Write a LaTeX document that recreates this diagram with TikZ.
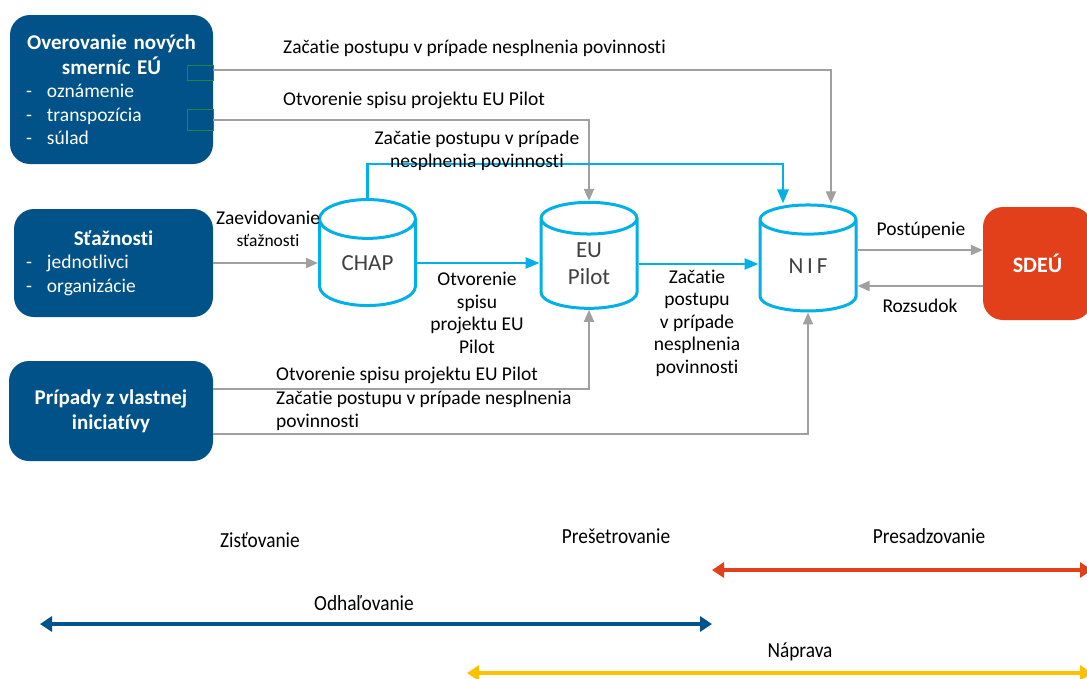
\documentclass[tikz,border=0pt]{standalone}
\usepackage{fontspec}
\setmainfont{Carlito}[RawFeature={-liga;-clig;-calt;-dlig}]
\newfontfamily\phasefont{Carlito}[FakeStretch=0.9,RawFeature={-liga;-clig;-calt;-dlig}]
\usetikzlibrary{shapes.geometric,arrows.meta,positioning,calc}

\definecolor{boxblue}{RGB}{0,82,136}
\definecolor{dbcyan}{RGB}{0,176,230}
\definecolor{linegray}{RGB}{160,160,160}
\definecolor{courtred}{RGB}{226,64,26}
\definecolor{fixyellow}{RGB}{255,192,0}
\definecolor{markgreen}{RGB}{40,130,70}

\newcommand{\lbl}{\fontsize{19.5}{22.5}\selectfont}
\newcommand{\boxfont}{\fontsize{19.5}{23.5}\selectfont}
\newcommand{\titlefont}{\fontsize{21}{25}\selectfont\bfseries}

\tikzset{
  bluebox/.style={fill=boxblue, rounded corners=20pt, text=white, font=\boxfont, inner sep=0pt},
  db/.style={cylinder, shape border rotate=90, aspect=0.75, draw=dbcyan, line width=3pt,
    fill=white, minimum width=96pt, minimum height=106pt, inner sep=0pt,
    font=\fontsize{23}{27}\selectfont, text=black!75, align=center},
  lab/.style={font=\lbl, inner sep=0pt},
  phaselab/.style={font=\phasefont\fontsize{21.5}{25}\selectfont, inner sep=0pt},
  garrow/.style={draw=linegray, line width=2pt, -{Triangle[length=12pt,width=10pt]}},
  barrow/.style={draw=dbcyan, line width=2.5pt, -{Triangle[length=14pt,width=11pt]}},
  phase/.style={line width=4.5pt, {Triangle[length=12pt,width=15pt]}-{Triangle[length=12pt,width=15pt]}},
}

\begin{document}
\begin{tikzpicture}[x=1pt,y=-1pt]
  \useasboundingbox (0,0) rectangle (1087,678);

  % Sources
  \node[bluebox, minimum width=203pt, minimum height=149pt, text width=175pt, inner xsep=14pt]
    (smer) at (111.5,89.5)
    {{\centering\titlefont Overovanie nových\\ smerníc EÚ\par}
     \hspace{2pt}-\hspace{15pt}oznámenie\\ \hspace*{2pt}-\hspace{15pt}transpozícia\\ \hspace*{2pt}-\hspace{15pt}súlad};
  \node[bluebox, minimum width=199pt, minimum height=108pt, text width=175pt, inner xsep=12pt]
    (stz) at (113.5,263)
    {{\centering\titlefont Sťažnosti\par}
     -\hspace{15pt}jednotlivci\\ -\hspace{15pt}organizácie};
  \node[bluebox, minimum width=204pt, minimum height=100pt, align=center, font=\titlefont]
    (prip) at (111,411) {Prípady z vlastnej\\ iniciatívy};

  % Court
  \node[bluebox, fill=courtred, minimum width=109pt, minimum height=113pt, font=\fontsize{22}{26}\selectfont\bfseries]
    (sdeu) at (1037.5,263.5) {SDEÚ};

  % Databases
  \node[db] (chap) at (367.5,263) {CHAP};
  \node[db] (eup) at (589,264) {EU\\ Pilot};
  \node[db] (nif) at (808,266) {N\,I\,F};

  % Marks
  \draw[markgreen, thin] (187,65) rectangle (213,80);
  \draw[markgreen, thin] (187,109) rectangle (213,130);

  % Flows
  \draw[garrow] ([yshift=19.5pt]smer.east) -| ([xshift=23pt]nif.north);
  \draw[garrow] ([yshift=-30.5pt]smer.east) -| (eup.north);
  \draw[barrow] (chap.north) -- ++(0,-34) -| ([xshift=-25pt]nif.north);
  \draw[garrow] (stz.east) -- (stz.east -| chap.west);
  \draw[barrow] (chap.east) -- (chap.east -| eup.west);
  \draw[barrow] (eup.east) -- (eup.east -| nif.west);
  \coordinate (nifout) at ([yshift=16pt]nif.east);
  \coordinate (nifin) at ([yshift=-20pt]nif.east);
  \draw[garrow] (nifout) -- (nifout -| sdeu.west);
  \draw[garrow] (nifin -| sdeu.west) -- (nifin);
  \draw[garrow] ([yshift=22pt]prip.east) -| (eup.south);
  \draw[garrow] ([yshift=-23pt]prip.east) -| (nif.south);

  % Labels
  \node[lab, anchor=west] (l1) at (283,48) {Začatie postupu v prípade nesplnenia povinnosti};
  \node[lab, anchor=west] (l2) at (283,100) {Otvorenie spisu projektu EU Pilot};
  \node[lab, align=center] (l3) at (477,151) {Začatie postupu v prípade\\ nesplnenia povinnosti};
  \node[lab, align=center] (l4) at (268,229) {Zaevidovanie\\ {\fontsize{17.5}{20}\selectfont sťažnosti}};
  \node[lab, align=center] (l5) at (477,313) {Otvorenie\\ spisu\\ projektu EU\\ Pilot};
  \node[lab, align=center] (l6) at (697,323) {Začatie\\ postupu\\ v prípade\\ nesplnenia\\ povinnosti};
  \node[lab] (l7) at (921,230) {Postúpenie};
  \node[lab] (l8) at (920,306) {Rozsudok};
  \node[lab, anchor=west] (l9) at (276,375) {Otvorenie spisu projektu EU Pilot};
  \node[lab, anchor=west, align=left] (l10) at (276,411) {Začatie postupu v prípade nesplnenia\\ povinnosti};

  % Phases
  \node[phaselab] (zist) at (260,540) {Zisťovanie};
  \node[phaselab] (pres) at (616,536) {Prešetrovanie};
  \node[phaselab] (pres2) at (929,536) {Presadzovanie};
  \node[phaselab] (odh) at (364,603) {Odhaľovanie};
  \node[phaselab] (napr) at (800,652) {Náprava};
  \coordinate (redL) at (712,570);
  \coordinate (redR) at (1092,570);
  \coordinate (blueL) at (40,624);
  \coordinate (blueR) at (712,624);
  \coordinate (yelL) at (467,673);
  \coordinate (yelR) at (1092,673);
  \draw[phase, courtred] (redL) -- (redR);
  \draw[phase, boxblue] (blueL) -- (blueR);
  \draw[phase, fixyellow] (yelL) -- (yelR);
\end{tikzpicture}
\end{document}
